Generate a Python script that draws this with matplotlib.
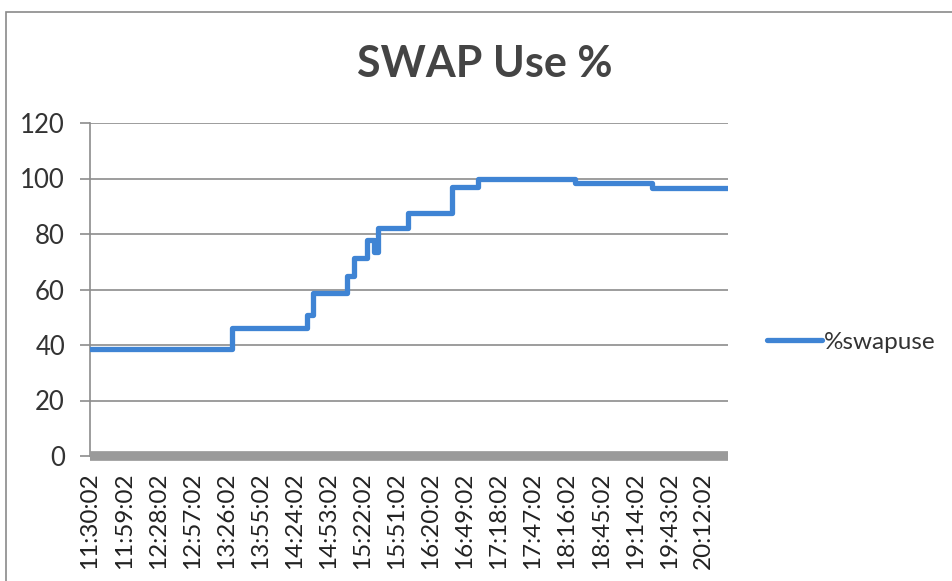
import matplotlib
matplotlib.use("Agg")
import matplotlib.pyplot as plt
from matplotlib.patches import Rectangle
from matplotlib.lines import Line2D

# ---- data (minutes after 11:30:02, value at that minute onward) ----
step_minutes = [0, 121, 185, 190, 219, 225, 236, 242, 245, 271, 308, 330, 413, 478, 543]
step_values = [38.5, 46.1, 50.7, 58.6, 64.9, 71.5, 77.8, 73.4, 82.3, 87.4, 97.0, 99.9, 98.4, 96.5, 96.5]

tick_labels = ["11:30:02", "11:59:02", "12:28:02", "12:57:02", "13:26:02", "13:55:02",
               "14:24:02", "14:53:02", "15:22:02", "15:51:02", "16:20:02", "16:49:02",
               "17:18:02", "17:47:02", "18:16:02", "18:45:02", "19:14:02", "19:43:02",
               "20:12:02"]
tick_step = 29
y_ticks = [0, 20, 40, 60, 80, 100, 120]
series_name = "%swapuse"
title = "SWAP Use %"

FONT = "Lato"
W, H = 953, 581
fig = plt.figure(figsize=(W / 100, H / 100), dpi=100)
fig.patch.set_facecolor("white")

# outer chart border (scanned Excel chart area)
fig.add_artist(Rectangle((6 / W, -0.05), 1.2, 1 - 12 / H + 0.05, transform=fig.transFigure,
                         fill=False, edgecolor="#8a8a8a", linewidth=1.2))

ax = fig.add_axes([90 / W, 1 - 456 / H, (728 - 90) / W, (456 - 123) / H])
ax.step(step_minutes, step_values, where="post", color="#3f84d4", linewidth=3.8,
        solid_joinstyle="round", solid_capstyle="round", zorder=3)

ax.set_xlim(0, step_minutes[-1])
ax.set_ylim(0, 120)
ax.set_yticks(y_ticks)
ax.set_yticklabels([str(v) for v in y_ticks], fontsize=18.5, color="#333333", family=FONT)
ax.yaxis.grid(True, color="#8c8c8c", linewidth=1.2)
ax.set_axisbelow(True)
ax.tick_params(axis="y", length=7, width=1.2, color="#8c8c8c", pad=11, direction="out")

ax.set_xticks([i * tick_step for i in range(len(tick_labels))])
ax.set_xticklabels(tick_labels, rotation=90, fontsize=17.5, color="#222222", family=FONT)
ax.tick_params(axis="x", length=0, pad=12)

for s in ["top", "right"]:
    ax.spines[s].set_visible(False)
ax.spines["left"].set_color("#8c8c8c")
ax.spines["left"].set_linewidth(1.2)
ax.spines["bottom"].set_color("#9a9a9a")
ax.spines["bottom"].set_linewidth(7)
ax.spines["bottom"].set_capstyle("butt")

fig.text(485 / W, 1 - 64 / H, title, ha="center", va="center", fontsize=31,
         fontweight="bold", color="#444444", family=FONT)

# legend
handle = Line2D([], [], color="#3f84d4", linewidth=3.8, solid_capstyle="round")
fig.legend([handle], [series_name], loc="center left", bbox_to_anchor=(767 / W, 1 - 342 / H),
           frameon=False, handlelength=2.25, handletextpad=0.1, borderpad=0, borderaxespad=0,
           prop={"family": FONT, "size": 17.5}, labelcolor="#333333")

fig.savefig("out.png", dpi=100, facecolor="white")
